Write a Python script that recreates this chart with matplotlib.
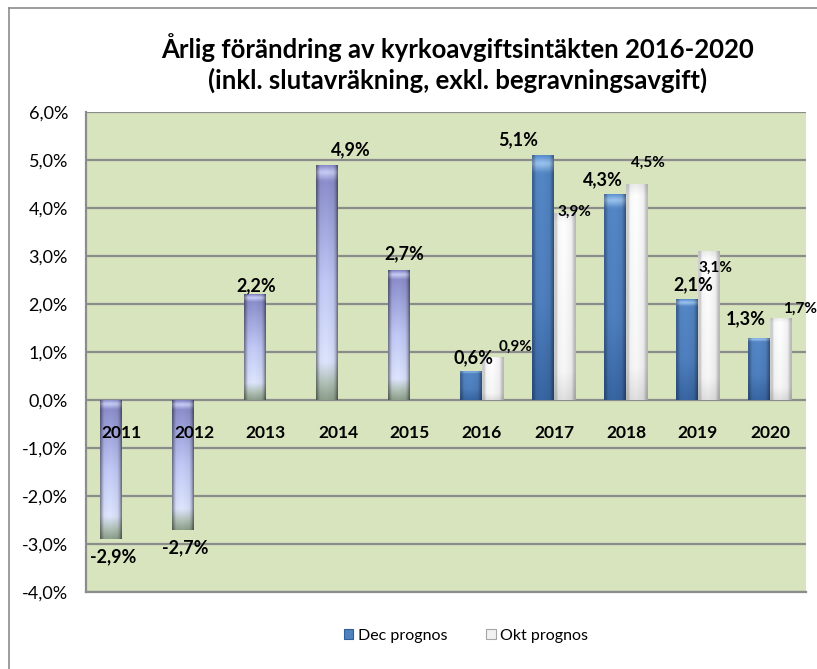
import numpy as np
import matplotlib
matplotlib.use("Agg")
import matplotlib.pyplot as plt
from matplotlib.patches import Patch
from matplotlib.lines import Line2D

plt.rcParams['font.family'] = ['Lato', 'DejaVu Sans']

# ---- data ----
years = ["2011", "2012", "2013", "2014", "2015", "2016", "2017", "2018", "2019", "2020"]
dec_prognos = [-2.9, -2.7, 2.2, 4.9, 2.7, 0.6, 5.1, 4.3, 2.1, 1.3]
okt_prognos = [None, None, None, None, None, 0.9, 3.9, 4.5, 3.1, 1.7]
historical = [True, True, True, True, True, False, False, False, False, False]
dec_labels = ["-2,9%", "-2,7%", "2,2%", "4,9%", "2,7%", "0,6%", "5,1%", "4,3%", "2,1%", "1,3%"]
okt_labels = [None, None, None, None, None, "0,9%", "3,9%", "4,5%", "3,1%", "1,7%"]
yticks = [-4, -3, -2, -1, 0, 1, 2, 3, 4, 5, 6]
ytick_labels = ["-4,0%", "-3,0%", "-2,0%", "-1,0%", "0,0%", "1,0%", "2,0%", "3,0%", "4,0%", "5,0%", "6,0%"]
title = "Årlig förändring av kyrkoavgiftsintäkten 2016-2020\n(inkl. slutavräkning, exkl. begravningsavgift)"
legend_names = ["Dec prognos", "Okt prognos"]

# label offsets (pixels) relative to the bar end: (dx, dy)
dec_off = [(2, -18), (2, -18), (1, 9), (24, 15), (5, 17), (2, 13), (-25, 15), (-12, 14), (6, 14), (-13, 19)]
okt_off = [None, None, None, None, None, (23, 10), (10, 1), (11, 21), (7, -17), (19, 10)]

W, H = 817, 669
fig = plt.figure(figsize=(W / 100, H / 100), dpi=100)
ax = fig.add_axes([86 / W, (H - 592) / H, 720 / W, 480 / H])
ax.set_facecolor('#d7e4bd')

# outer frame (left + top visible)
fig.add_artist(Line2D([9 / W, 9 / W], [0, 1 - 8 / H], transform=fig.transFigure, color='#8c8c8c', lw=1.2))
fig.add_artist(Line2D([9 / W, 1], [1 - 8 / H, 1 - 8 / H], transform=fig.transFigure, color='#8c8c8c', lw=1.2))

x = np.arange(len(years))
bw = 0.3


def interp_colors(stops, n):
    ts = np.array([s[0] for s in stops])
    cols = np.array([s[1] for s in stops], dtype=float)
    t = np.linspace(0, 1, n)
    return np.stack([np.interp(t, ts, cols[:, k]) for k in range(3)], axis=1)


def hprofile(n, left=0.6, right=0.55):
    t = np.linspace(0, 1, n)
    p = np.interp(t, [0, 0.1, 0.18, 0.45, 0.8, 0.9, 1.0], [left, 0.8, 0.97, 1.0, 0.95, 0.8, right])
    return p


lav_stops = [(0.0, (0.52, 0.53, 0.78)), (0.03, (0.80, 0.82, 0.98)), (0.07, (0.55, 0.56, 0.80)),
             (0.5, (0.76, 0.79, 0.97)), (0.84, (0.87, 0.90, 1.0)), (0.93, (0.70, 0.76, 0.72)),
             (1.0, (0.56, 0.63, 0.56))]
blue_stops = [(0.0, (0.36, 0.56, 0.82)), (0.03, (0.62, 0.78, 0.95)), (0.07, (0.33, 0.53, 0.78)),
              (0.6, (0.31, 0.50, 0.75)), (1.0, (0.22, 0.40, 0.64))]
white_stops = [(0.0, (0.93, 0.93, 0.93)), (0.05, (1.0, 1.0, 1.0)), (0.85, (0.97, 0.97, 0.97)),
               (1.0, (0.88, 0.88, 0.88))]


def gradient_bar(patch, stops, hp_left, hp_right):
    bb = patch.get_bbox()
    x0, x1 = sorted([bb.x0, bb.x1])
    y0, y1 = sorted([bb.y0, bb.y1])
    n_v, n_h = 120, 40
    col = interp_colors(stops, n_v)  # top -> bottom on screen
    hp = hprofile(n_h, hp_left, hp_right)
    img = np.clip(col[:, None, :] * hp[None, :, None], 0, 1)
    im = ax.imshow(img, extent=(x0, x1, y0, y1), origin='upper', aspect='auto',
                   interpolation='bilinear', zorder=3)
    im.set_clip_path(patch)


dec_x = x - bw / 2
okt_x = x + bw / 2
bars_dec = ax.bar(dec_x, dec_prognos, width=bw, zorder=3, facecolor='none', edgecolor='none')
okt_vals = [v if v is not None else 0 for v in okt_prognos]
bars_okt = ax.bar(okt_x, okt_vals, width=bw, zorder=3, facecolor='none', edgecolor='none')

for i, p in enumerate(bars_dec.patches):
    if historical[i]:
        gradient_bar(p, lav_stops, 0.55, 0.5)
    else:
        gradient_bar(p, blue_stops, 0.7, 0.6)
for i, p in enumerate(bars_okt.patches):
    if okt_prognos[i] is None:
        p.set_visible(False)
        continue
    gradient_bar(p, white_stops, 0.82, 0.72)

ax.set_xlim(-0.5, len(years) - 0.5)
ax.set_ylim(-4, 6)
ax.set_yticks(yticks)
ax.set_yticklabels(ytick_labels, fontsize=13)
ax.tick_params(axis='y', length=0, pad=13)
ax.set_xticks([])
ax.yaxis.grid(True, color='#8c8c8c', lw=1.6)
ax.set_axisbelow(True)
for s in ['top', 'right']:
    ax.spines[s].set_visible(False)
ax.spines['left'].set_color('#8c8c8c')
ax.spines['left'].set_linewidth(1.6)
ax.spines['bottom'].set_color('#8c8c8c')
ax.spines['bottom'].set_linewidth(1.6)

# year labels near zero line
for i, yr in enumerate(years):
    ax.annotate(yr, (x[i], 0), xytext=(0, -33), textcoords='offset pixels', ha='center', va='center',
                fontsize=12.5, fontweight='bold', zorder=5)

# data labels
for i, v in enumerate(dec_prognos):
    dx, dy = dec_off[i]
    ax.annotate(dec_labels[i], (dec_x[i], v), xytext=(dx, dy), textcoords='offset pixels',
                ha='center', va='center', fontsize=13, fontweight='bold', zorder=6)
for i, v in enumerate(okt_prognos):
    if v is None:
        continue
    dx, dy = okt_off[i]
    ax.annotate(okt_labels[i], (okt_x[i], v), xytext=(dx, dy), textcoords='offset pixels',
                ha='center', va='center', fontsize=11, fontweight='bold', zorder=6,
                annotation_clip=False)

fig.text(458 / W, 1 - 63 / H, title, ha='center', va='center', fontsize=18.5, fontweight='bold',
         linespacing=1.3)

handles = [Patch(facecolor='#4f81bd', edgecolor='#2f5f9a', lw=0.8),
           Patch(facecolor='#f2f2f2', edgecolor='#a6a6a6', lw=0.8)]
fig.legend(handles, legend_names, loc='center', bbox_to_anchor=(466 / W, 1 - 636 / H), ncol=2,
           frameon=False, fontsize=11.5, handlelength=0.6, handleheight=0.6, handletextpad=0.3,
           columnspacing=2.4)

fig.savefig('out.png', dpi=100)
